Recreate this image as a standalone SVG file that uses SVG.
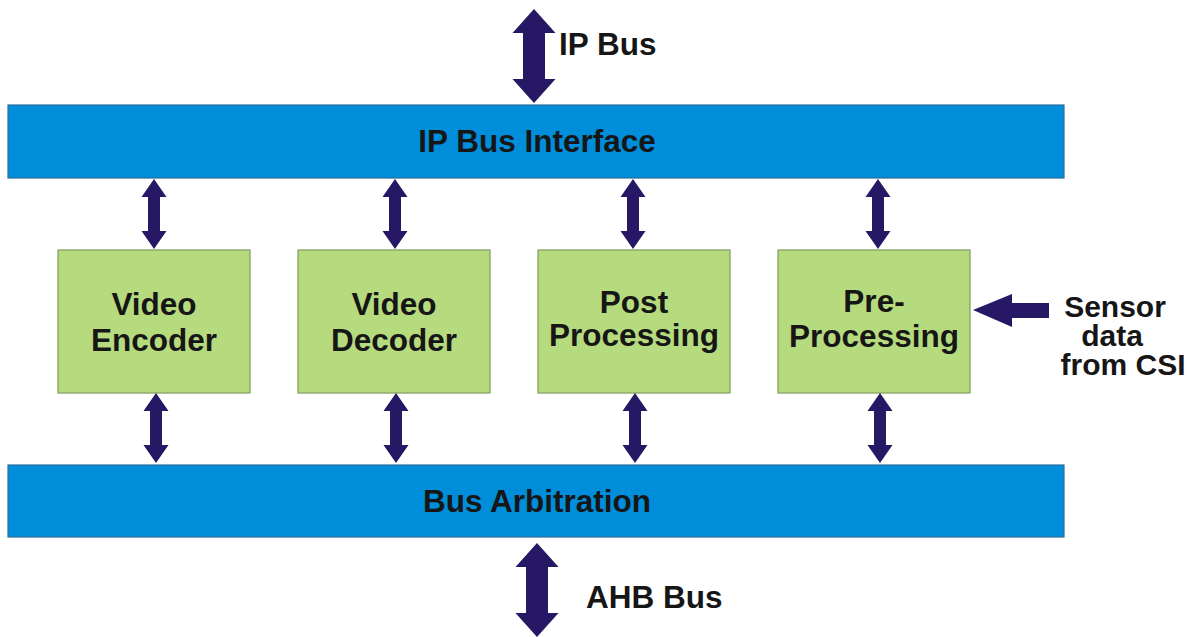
<svg xmlns="http://www.w3.org/2000/svg" width="1188" height="637" viewBox="0 0 1188 637">
<defs>
<style>
.bar{fill:#008DDA;stroke:#2a6f9c;stroke-width:1.2}
.box{fill:#B6DB7E;stroke:#7d9c5e;stroke-width:1.2}
.arr{fill:#271866}
text{font-family:"Liberation Sans",Arial,sans-serif;font-weight:bold;font-size:31.5px;fill:#161616}
.c{text-anchor:middle}
.s{font-size:30px}
</style>
<path id="dbl" d="M0,0 L12.5,18 L6,18 L6,52 L12.5,52 L0,70 L-12.5,52 L-6,52 L-6,18 L-12.5,18 Z"/>
<path id="big" d="M0,0 L21.5,24 L11,24 L11,70 L21.5,70 L0,94 L-21.5,70 L-11,70 L-11,24 L-21.5,24 Z"/>
</defs>
<rect width="1188" height="637" fill="#ffffff"/>
<g id="ipbus-interface">
<rect class="bar" x="8" y="105" width="1056" height="73"/>
<text class="c" x="537" y="152">IP Bus Interface</text>
</g>
<g id="bus-arbitration">
<rect class="bar" x="8" y="465" width="1056" height="72"/>
<text class="c" x="537" y="512">Bus Arbitration</text>
</g>
<g id="video-encoder">
<rect class="box" x="58" y="250" width="192" height="143"/>
<text class="c" x="154" y="315">Video<tspan x="154" y="351">Encoder</tspan></text>
</g>
<g id="video-decoder">
<rect class="box" x="298" y="250" width="192" height="143"/>
<text class="c" x="394" y="315">Video<tspan x="394" y="351">Decoder</tspan></text>
</g>
<g id="post-processing">
<rect class="box" x="538" y="250" width="192" height="143"/>
<text class="c" x="634" y="313">Post<tspan x="634" y="346">Processing</tspan></text>
</g>
<g id="pre-processing">
<rect class="box" x="778" y="250" width="192" height="143"/>
<text class="c" x="874" y="312">Pre-<tspan x="874" y="347">Processing</tspan></text>
</g>
<g id="ip-bus-label">
<text x="559" y="55">IP Bus</text>
</g>
<g id="ahb-bus-label">
<text x="586" y="608">AHB Bus</text>
</g>
<g id="sensor-label">
<text class="c s" x="1115" y="317">Sensor<tspan x="1112" y="346">data</tspan><tspan x="1123" y="375">from CSI</tspan></text>
</g>
<g id="connectors" class="arr">
<use href="#big" x="534" y="9"/>
<use href="#big" x="537" y="543"/>
<use href="#dbl" x="154" y="179"/>
<use href="#dbl" x="395" y="179"/>
<use href="#dbl" x="633" y="179"/>
<use href="#dbl" x="878" y="179"/>
<use href="#dbl" x="156" y="393"/>
<use href="#dbl" x="396" y="393"/>
<use href="#dbl" x="635" y="393"/>
<use href="#dbl" x="880" y="393"/>
<path d="M973,310 L1012,294 L1012,303 L1049,303 L1049,318 L1012,318 L1012,327 Z"/>
</g>
</svg>
